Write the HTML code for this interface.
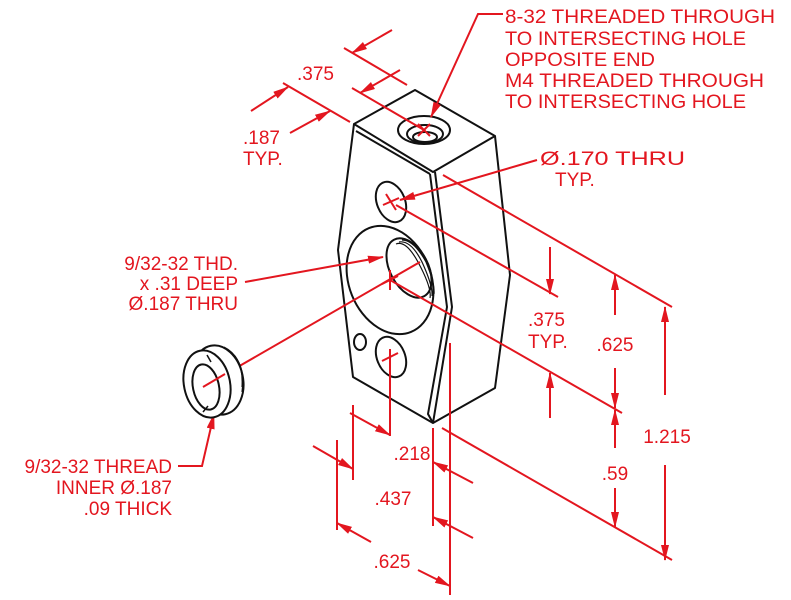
<!DOCTYPE html>
<html><head><meta charset="utf-8"><style>
html,body{margin:0;padding:0;background:#fff;}
svg{display:block;}
text{font-family:"Liberation Sans",sans-serif;font-size:19px;fill:#e3161f;}
</style></head><body>
<svg width="791" height="600" viewBox="0 0 791 600" xmlns="http://www.w3.org/2000/svg">
<defs>
<marker id="a" markerWidth="16" markerHeight="8" refX="15" refY="4" orient="auto" markerUnits="userSpaceOnUse">
<path d="M0,0 L16,4 L0,8 Z" fill="#e3161f"/>
</marker>
</defs>
<g fill="none" stroke="#111" stroke-width="2" stroke-linejoin="round">
<!-- block -->
<path d="M354,124 L415,90 L495,136 L433,172 Z" fill="#fff"/>
<path d="M356,131 L430,174"/>
<path d="M354,124 L338,250 L353,377 L433,423 L495,388 L510,275 L495,136"/>
<path d="M430,174 L447,307 L428,414 L433,423"/>
<path d="M435,172 L452,307 L433,423"/>
<ellipse cx="424" cy="130" rx="26" ry="14"/>
<ellipse cx="425" cy="134" rx="18" ry="9"/>
<ellipse cx="425" cy="137" rx="12" ry="5"/>
<ellipse cx="391" cy="202" rx="14" ry="21" transform="rotate(-22 391 202)"/>
<ellipse cx="390" cy="280" rx="41" ry="56" transform="rotate(-22 390 280)"/>
<ellipse cx="409" cy="268" rx="19" ry="32" transform="rotate(-28 409 268)"/>
<path d="M396,244 q10,-4 22,18 q14,26 12,36" stroke-width="1.2"/>
<path d="M399,242 q12,-2 23,20 q11,24 10,34" stroke-width="1.2"/>
<path d="M402,240 q12,0 24,22 q9,22 8,32" stroke-width="1.2"/>
<ellipse cx="360" cy="342" rx="6" ry="8"/>
<ellipse cx="391" cy="357" rx="14" ry="21" transform="rotate(-22 391 357)"/>
</g>
<g stroke="#e3161f" stroke-width="2" fill="none">
<!-- crosses -->
<path d="M418,124 L430,136 M430,124 L418,136"/>
<path d="M386,194 L396,210 M383,205 L399,198"/>
<path d="M390,270 L390,290 M382,284 L398,276"/>
<path d="M390,349 L390,366 M382,361 L398,353"/>
<!-- top right leader -->
<path d="M503,14 L478,14 L431,117" marker-end="url(#a)"/>
<!-- .375 top -->
<path d="M344,48 L407,85"/>
<path d="M352,88 L424,130"/>
<path d="M392,30 L352,53" marker-end="url(#a)"/>
<path d="M400,70 L360,93" marker-end="url(#a)"/>
<!-- .187 -->
<path d="M283,83 L350,122"/>
<path d="M251,111 L288,87" marker-end="url(#a)"/>
<path d="M290,133 L330,111" marker-end="url(#a)"/>
<!-- Ø.170 leader -->
<path d="M537,160 L400,200" marker-end="url(#a)"/>
<!-- right extension lines -->
<path d="M443,175 L672,307"/>
<path d="M396,205 L558,297"/>
<path d="M390,280 L622,413"/>
<path d="M442,428 L672,560"/>
<!-- vertical dims right -->
<path d="M550,247 L550,294" marker-end="url(#a)"/>
<path d="M550,418 L550,373" marker-end="url(#a)"/>
<path d="M615,315 L615,275" marker-end="url(#a)"/>
<path d="M615,368 L615,408" marker-end="url(#a)"/>
<path d="M615,448 L615,410" marker-end="url(#a)"/>
<path d="M615,488 L615,527" marker-end="url(#a)"/>
<path d="M665,395 L665,307" marker-end="url(#a)"/>
<path d="M665,465 L665,560" marker-end="url(#a)"/>
<!-- thread label leader -->
<path d="M245,282 L383,257" marker-end="url(#a)"/>
<!-- washer line -->
<path d="M203,387 L420,262"/>
<!-- bottom vertical ext lines -->
<path d="M337,440 L337,530"/>
<path d="M353,405 L353,480"/>
<path d="M390,366 L390,436"/>
<path d="M433,428 L433,526"/>
<path d="M450,343 L450,595"/>
<!-- bottom arrows -->
<path d="M350,413 L390,435" marker-end="url(#a)"/>
<path d="M473,483 L433,462" marker-end="url(#a)"/>
<path d="M313,446 L353,469" marker-end="url(#a)"/>
<path d="M473,538 L433,517" marker-end="url(#a)"/>
<path d="M371,542 L337,523" marker-end="url(#a)"/>
<path d="M418,570 L450,586" marker-end="url(#a)"/>
<!-- washer leader -->
<path d="M178,466 L202,466 L214,414" marker-end="url(#a)"/>
</g>
<!-- washer -->
<g fill="none" stroke="#111" stroke-width="2">
<ellipse cx="218" cy="380" rx="25" ry="35" transform="rotate(-12 218 380)" fill="#fff"/>
<path d="M224,347 q20,10 18,40" stroke-width="1.2"/>
<path d="M228,350 q18,12 14,42" stroke-width="1.2"/>
<ellipse cx="207" cy="384" rx="23" ry="34" transform="rotate(-12 207 384)" fill="#fff"/>
<ellipse cx="206" cy="387" rx="13" ry="23" transform="rotate(-12 206 387)"/>
<path d="M207,355 L211,362 M203,412 L208,406" stroke-width="1.5"/>
</g>
<path d="M203,387 L225,374" stroke="#e3161f" stroke-width="2"/>
<!-- texts -->
<text x="505" y="23" textLength="270" lengthAdjust="spacingAndGlyphs">8-32 THREADED THROUGH</text>
<text x="505" y="45" textLength="241" lengthAdjust="spacingAndGlyphs">TO INTERSECTING HOLE</text>
<text x="505" y="66" textLength="150" lengthAdjust="spacingAndGlyphs">OPPOSITE END</text>
<text x="505" y="87" textLength="259" lengthAdjust="spacingAndGlyphs">M4 THREADED THROUGH</text>
<text x="505" y="108" textLength="241" lengthAdjust="spacingAndGlyphs">TO INTERSECTING HOLE</text>
<text x="297" y="80">.375</text>
<text x="243" y="144">.187</text>
<text x="243" y="165">TYP.</text>
<text x="540" y="165" textLength="145" lengthAdjust="spacingAndGlyphs">Ø.170 THRU</text>
<text x="555" y="186">TYP.</text>
<text x="238" y="270" text-anchor="end">9/32-32 THD.</text>
<text x="238" y="290" text-anchor="end">x .31 DEEP</text>
<text x="238" y="310" text-anchor="end">Ø.187 THRU</text>
<text x="528" y="326">.375</text>
<text x="528" y="348">TYP.</text>
<text x="615" y="351" text-anchor="middle">.625</text>
<text x="667" y="443" text-anchor="middle">1.215</text>
<text x="615" y="480" text-anchor="middle">.59</text>
<text x="412" y="460" text-anchor="middle">.218</text>
<text x="393" y="505" text-anchor="middle">.437</text>
<text x="392" y="568" text-anchor="middle">.625</text>
<text x="172" y="473" text-anchor="end">9/32-32 THREAD</text>
<text x="172" y="494" text-anchor="end">INNER Ø.187</text>
<text x="172" y="515" text-anchor="end">.09 THICK</text>
</svg>
</body></html>
